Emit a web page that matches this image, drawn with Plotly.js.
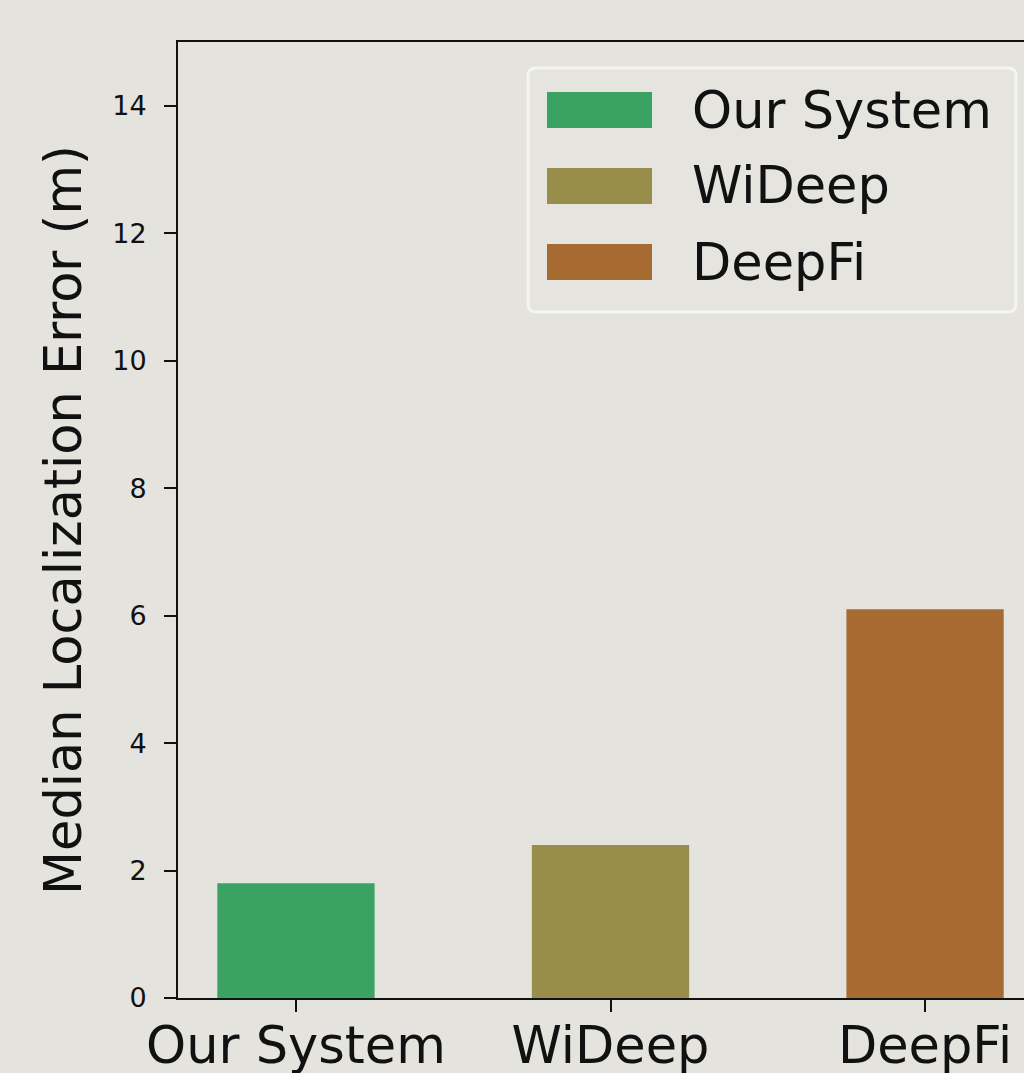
<!DOCTYPE html>
<html>
<head>
<meta charset="utf-8">
<script src="https://cdn.plot.ly/plotly-3.0.1.min.js"></script>
<style>
html,body{margin:0;padding:0;overflow:hidden;background:#e4e3de;}
#chart{width:1060px;height:1073px;}
</style>
</head>
<body>
<div id="chart"></div>
<script>
const categories = ["Our System", "WiDeep", "DeepFi"];
const values = [1.8, 2.4, 6.1];
const colors = ["#3aa363", "#988d4b", "#a76a30"];
const yTicks = [0, 2, 4, 6, 8, 10, 12, 14];

const FONT = "DejaVu Sans, Liberation Sans, sans-serif";
const L = 178, T = 42, R = 1043, B = 998;
const px = x => (x - L) / (R - L);
const py = y => (B - y) / (B - T);

const trace = {
  type: "bar",
  x: categories.map((c, i) => i),
  y: values,
  width: 0.5,
  marker: {color: colors, line: {width: 0}},
  showlegend: false,
  hoverinfo: "x+y"
};

const shapes = [];
const annotations = [];
// legend frame (rounded)
(function(){
  const x0 = px(528), x1 = px(1016), y0 = py(312), y1 = py(68);
  const rx = 8/(R-L), ry = 8/(B-T);
  shapes.push({
    type: "path", xref: "paper", yref: "paper",
    path: `M ${x0+rx},${y0} L ${x1-rx},${y0} Q ${x1},${y0} ${x1},${y0+ry} L ${x1},${y1-ry} Q ${x1},${y1} ${x1-rx},${y1} L ${x0+rx},${y1} Q ${x0},${y1} ${x0},${y1-ry} L ${x0},${y0+ry} Q ${x0},${y0} ${x0+rx},${y0} Z`,
    line: {color: "#f4f4f2", width: 3},
    fillcolor: "rgba(229,228,223,0.8)",
    layer: "above"
  });
})();
categories.forEach((c, i) => {
  const cy = 110 + i * 76;
  shapes.push({
    type: "rect", xref: "paper", yref: "paper",
    x0: px(547), x1: px(652), y0: py(cy + 18), y1: py(cy - 18),
    fillcolor: colors[i], line: {width: 0}, layer: "above"
  });
  annotations.push({
    xref: "paper", yref: "paper", x: px(690), y: py(cy),
    xanchor: "left", yanchor: "middle", showarrow: false,
    text: c, font: {family: FONT, size: 51, color: "#111"}
  });
});

const layout = {
  width: 1060, height: 1073,
  paper_bgcolor: "#e4e3de", plot_bgcolor: "#e4e3de",
  margin: {l: L, r: 1060 - R, t: T, b: 1073 - B},
  font: {family: FONT, color: "#111"},
  xaxis: {
    range: [-0.375, 2.375],
    tickmode: "array", tickvals: categories.map((c, i) => i), ticktext: categories,
    ticks: "outside", ticklen: 12, tickwidth: 2, tickcolor: "#111",
    showline: true, linecolor: "#111", linewidth: 2, mirror: true,
    showgrid: false, zeroline: false,
    tickfont: {family: FONT, size: 51, color: "#111"},
    ticklabelstandoff: -10
  },
  yaxis: {
    range: [0, 15],
    tickmode: "array", tickvals: yTicks, ticktext: yTicks.map(String),
    ticks: "outside", ticklen: 12, tickwidth: 2, tickcolor: "#111",
    showline: true, linecolor: "#111", linewidth: 2, mirror: true,
    showgrid: false, zeroline: false,
    tickfont: {family: FONT, size: 27, color: "#111"},
    ticklabelstandoff: 12,
    title: {text: "Median Localization Error (m)", font: {family: FONT, size: 51, color: "#111"}, standoff: 14}
  },
  shapes: shapes,
  annotations: annotations,
  showlegend: false
};

Plotly.newPlot("chart", [trace], layout, {displayModeBar: false, staticPlot: true});
</script>
</body>
</html>
